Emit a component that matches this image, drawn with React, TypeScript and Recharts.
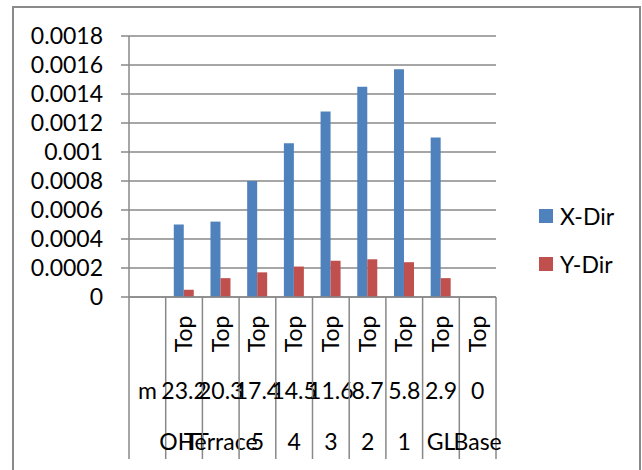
import React from 'react';
import { BarChart, Bar, XAxis, YAxis, CartesianGrid, Legend } from 'recharts';

const levelTop = ['', 'Top', 'Top', 'Top', 'Top', 'Top', 'Top', 'Top', 'Top', 'Top'];
const levelMid = ['m', '23.2', '20.3', '17.4', '14.5', '11.6', '8.7', '5.8', '2.9', '0'];
const levelBottom = ['', 'OHT', 'Terrace', '5', '4', '3', '2', '1', 'GL', 'Base'];
const xDir: (number | null)[] = [null, 0.0005, 0.00052, 0.0008, 0.00106, 0.00128, 0.00145, 0.00157, 0.0011, 0];
const yDir: (number | null)[] = [null, 0.00005, 0.00013, 0.00017, 0.00021, 0.00025, 0.00026, 0.00024, 0.00013, 0];
const yTicks = [0, 0.0002, 0.0004, 0.0006, 0.0008, 0.001, 0.0012, 0.0014, 0.0016, 0.0018];

const data = levelMid.map((m, i) => ({ mid: m, x: xDir[i], y: yDir[i] }));

const W = 642;
const H = 470;
const MARGIN = { top: 36, right: 146, bottom: 0, left: 1 };
const YAXIS_W = 128;
const XAXIS_H = 173;
const BAND = (W - MARGIN.left - MARGIN.right - YAXIS_W) / levelMid.length;
const FONT = 'Lato, "Open Sans", sans-serif';
const FS = 23;
const LINE = '#888888';

const CategoryTick = (props: any) => {
  const { x, y, index } = props;
  const half = BAND / 2;
  const last = index === levelMid.length - 1;
  return (
    <g>
      <line x1={x - half} x2={x - half} y1={y} y2={y + 162} stroke={LINE} strokeWidth={1.5} />
      {last && <line x1={x + half} x2={x + half} y1={y} y2={y + 162} stroke={LINE} strokeWidth={1.5} />}
      {levelTop[index] ? (
        <text
          x={x}
          y={y + 37}
          dy="0.35em"
          textAnchor="middle"
          transform={`rotate(-90 ${x} ${y + 37})`}
          fontFamily={FONT}
          fontSize={FS}
          fill="#000"
        >
          {levelTop[index]}
        </text>
      ) : null}
      <text x={x} y={y + 94} dy="0.35em" textAnchor="middle" fontFamily={FONT} fontSize={FS} fill="#000">
        {levelMid[index]}
      </text>
      <text x={x} y={y + 145} dy="0.35em" textAnchor="middle" fontFamily={FONT} fontSize={FS} fill="#000">
        {levelBottom[index]}
      </text>
    </g>
  );
};

const LegendContent = (props: any) => {
  const payload = props.payload || [];
  return (
    <div style={{ fontFamily: FONT, fontSize: FS, color: '#000' }}>
      {payload.map((p: any) => (
        <div key={p.value} style={{ display: 'flex', alignItems: 'center', height: 48 }}>
          <span style={{ display: 'inline-block', width: 14, height: 14, background: p.color, marginRight: 7 }} />
          <span>{p.value}</span>
        </div>
      ))}
    </div>
  );
};

export default function App() {
  return (
    <div style={{ position: 'absolute', left: 0, top: 0, width: W, height: H, overflow: 'hidden', background: '#fff' }}>
      <div
        style={{
          position: 'absolute',
          left: 12,
          top: 6,
          width: 629,
          height: 520,
          border: '2px solid #8a8a8a',
          boxSizing: 'border-box',
        }}
      />
      <div style={{ position: 'absolute', left: 0, top: 0 }}>
        <BarChart width={W} height={H} data={data} margin={MARGIN} barCategoryGap="22%" barGap={0}>
          <CartesianGrid vertical={false} stroke={LINE} strokeWidth={1.5} />
          <XAxis
            dataKey="mid"
            interval={0}
            height={XAXIS_H}
            tickSize={0}
            tickMargin={0}
            tickLine={false}
            axisLine={{ stroke: LINE, strokeWidth: 1.5 }}
            tick={<CategoryTick />}
          />
          <YAxis
            width={YAXIS_W}
            domain={[0, 0.0018]}
            ticks={yTicks}
            interval={0}
            tickSize={8}
            tickMargin={18}
            axisLine={{ stroke: LINE, strokeWidth: 1.5 }}
            tickLine={{ stroke: LINE, strokeWidth: 1.5 }}
            tick={{ fontFamily: FONT, fontSize: FS, fill: '#000' }}
            tickFormatter={(v: number) => String(v)}
          />
          <Legend
            layout="vertical"
            align="center"
            verticalAlign="middle"
            content={<LegendContent />}
            wrapperStyle={{ left: 539, top: 192, width: 100 }}
          />
          <Bar dataKey="x" name="X-Dir" fill="#4F81BD" isAnimationActive={false} />
          <Bar dataKey="y" name="Y-Dir" fill="#C0504D" isAnimationActive={false} />
        </BarChart>
      </div>
    </div>
  );
}
